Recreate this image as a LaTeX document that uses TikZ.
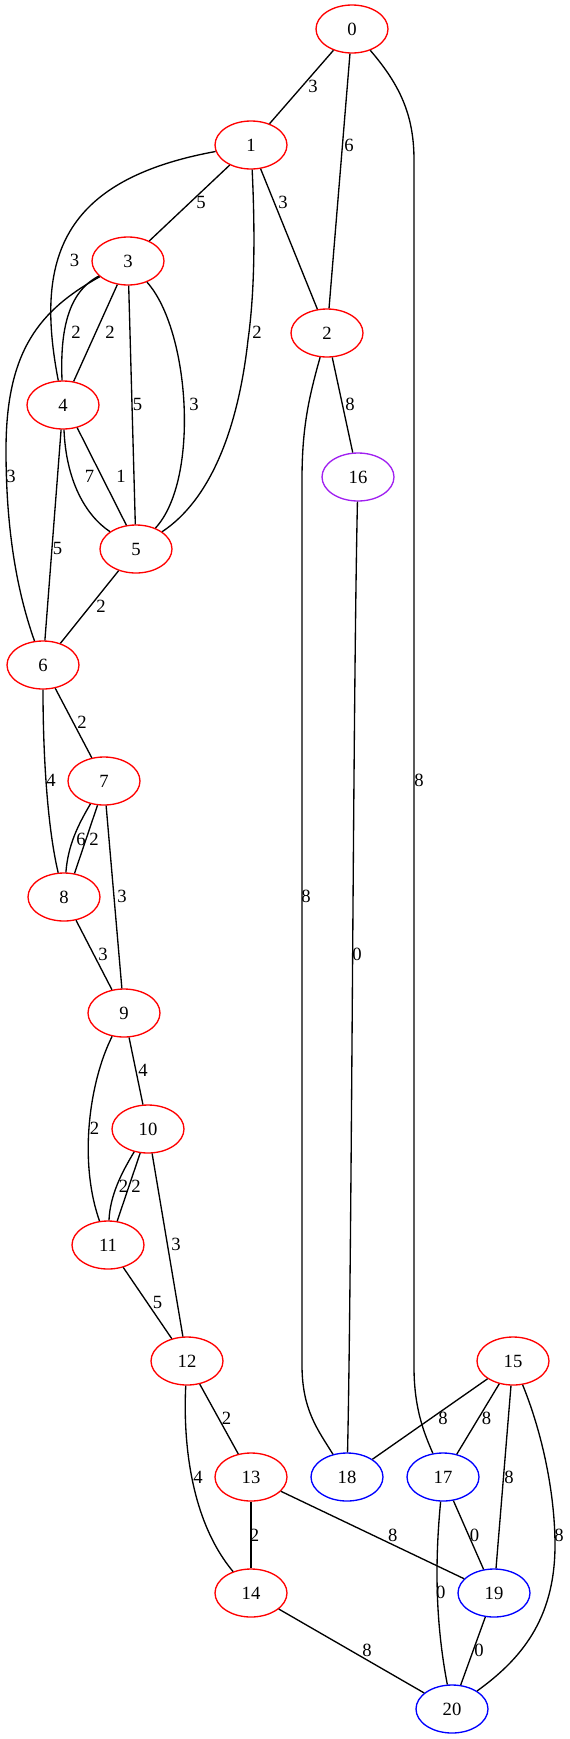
\documentclass[tikz,border=0pt]{standalone}
\usepackage{fontspec}
\setmainfont{Liberation Serif}
\usetikzlibrary{shapes.geometric}
\definecolor{gvpurple}{HTML}{A020F0}

\begin{document}
\begin{tikzpicture}[x=0.75pt, y=-0.75pt, line width=1pt,
  vtx/.style={draw, ellipse, minimum width=54pt, minimum height=36pt, inner sep=0pt, font=\fontsize{14}{16}\selectfont},
  redv/.style={vtx, draw=red},
  bluev/.style={vtx, draw=blue},
  purplev/.style={vtx, draw=gvpurple},
  wt/.style={inner sep=0pt, font=\fontsize{14}{16}\selectfont}]

\useasboundingbox (0,0) rectangle (570,1739);

% Top part
\node (n0) at (352,29) [redv] {0};
\node (n1) at (251,145) [redv] {1};
\node (n3) at (128,261) [redv] {3};
\node (n2) at (327,333) [redv] {2};
\node (n4) at (63,405) [redv] {4};
\node (n16) at (358,477) [purplev] {16};
\node (n5) at (136,549) [redv] {5};

% Left chain
\node (n6) at (43,665) [redv] {6};
\node (n7) at (104,781) [redv] {7};
\node (n8) at (64,897) [redv] {8};
\node (n9) at (124,1013) [redv] {9};
\node (n10) at (148,1129) [redv] {10};
\node (n11) at (108,1245) [redv] {11};
\node (n12) at (187,1361) [redv] {12};
\node (n15) at (513,1361) [redv] {15};

% Bottom part
\node (n13) at (251,1477) [redv] {13};
\node (n18) at (347,1477) [bluev] {18};
\node (n17) at (443,1477) [bluev] {17};
\node (n14) at (251,1593) [redv] {14};
\node (n19) at (494,1593) [bluev] {19};
\node (n20) at (452,1709) [bluev] {20};

% Edges
\draw (n0) -- (n1);
\draw (n0) -- (n2);
\draw (n0) .. controls (400,85) and (414,115) .. (414,160) -- (414,1367) .. controls (414,1410) and (425,1435) .. (n17);
\draw (n1) -- (n3);
\draw (n1) -- (n2);
\draw (n1) .. controls (60,180) and (35,260) .. (n4);
\draw (n1) .. controls (255,230) and (255,290) .. (248,340) .. controls (238,430) and (210,500) .. (n5);
\draw (n3) .. controls (68,292) and (60,330) .. (n4);
\draw (n3) -- (n4);
\draw (n3) -- (n5);
\draw (n3) .. controls (190,330) and (200,480) .. (n5);
\draw (n3) .. controls (40,310) and (6,350) .. (6,450) .. controls (6,540) and (20,600) .. (n6);
\draw (n4) .. controls (66,480) and (85,515) .. (n5);
\draw (n4.-58) -- (n5.112);
\draw (n4) -- (n6);
\draw (n5) -- (n6);
\draw (n2) -- (n16);
\draw (n2) .. controls (308,400) and (302,430) .. (302,480) -- (302,1365) .. controls (302,1410) and (318,1430) .. (n18);
\draw (n16) .. controls (353,700) and (352,1250) .. (n18);
\draw (n6) -- (n7);
\draw (n6) .. controls (43,760) and (48,830) .. (n8);
\draw (n7) .. controls (78,825) and (68,845) .. (n8);
\draw (n7.255) -- (n8.66);
\draw (n7) -- (n9);
\draw (n8) -- (n9);
\draw (n9) -- (n10);
\draw (n9) .. controls (90,1080) and (78,1160) .. (n11);
\draw (n10) .. controls (122,1172) and (110,1195) .. (n11);
\draw (n10.252) -- (n11.69);
\draw (n10) -- (n12);
\draw (n11) -- (n12);
\draw (n12) -- (n13);
\draw (n12) .. controls (183,1440) and (190,1520) .. (n14);
\draw (n13) -- (n14);
\draw (n13) -- (n19);
\draw (n14) -- (n20);
\draw (n15) -- (n18);
\draw (n15) -- (n17);
\draw (n15) -- (n19);
\draw (n15) .. controls (545,1440) and (555,1500) .. (555,1545) .. controls (555,1620) and (520,1660) .. (n20);
\draw (n17) -- (n19);
\draw (n17) .. controls (435,1560) and (435,1620) .. (n20);
\draw (n19) -- (n20);

% Weights
\node[wt] (w0-1) at (313,86) {3};
\node[wt] (w0-2) at (349,145) {6};
\node[wt] (w0-17) at (419,780) {8};
\node[wt] (w1-3) at (201,202) {5};
\node[wt] (w1-2) at (283,202) {3};
\node[wt] (w1-4) at (74.5,260) {3};
\node[wt] (w1-5) at (257,332) {2};
\node[wt] (w3-4a) at (76,332) {2};
\node[wt] (w3-4b) at (110,332) {2};
\node[wt] (w3-5a) at (137.5,404) {5};
\node[wt] (w3-5b) at (194,404) {3};
\node[wt] (w3-6) at (11,476.5) {3};
\node[wt] (w4-5a) at (89.5,476.5) {7};
\node[wt] (w4-5b) at (121,476.5) {1};
\node[wt] (w4-6) at (57.5,548) {5};
\node[wt] (w5-6) at (101,606) {2};
\node[wt] (w2-16) at (350,404) {8};
\node[wt] (w2-18) at (306,896) {8};
\node[wt] (w16-18) at (357,954) {0};
\node[wt] (w6-7) at (82,722) {2};
\node[wt] (w6-8) at (51,780) {4};
\node[wt] (w7-8a) at (81,839) {6};
\node[wt] (w7-8b) at (94,839) {2};
\node[wt] (w7-9) at (122,896) {3};
\node[wt] (w8-9) at (103,954) {3};
\node[wt] (w9-10) at (143,1070) {4};
\node[wt] (w9-11) at (94.5,1128) {2};
\node[wt] (w10-11a) at (123.6,1186) {2};
\node[wt] (w10-11b) at (136,1186) {2};
\node[wt] (w10-12) at (176,1244) {3};
\node[wt] (w11-12) at (157.5,1302) {5};
\node[wt] (w12-13) at (226.5,1418) {2};
\node[wt] (w12-14) at (198,1477) {4};
\node[wt] (w13-14) at (254.5,1535) {2};
\node[wt] (w13-19) at (392.7,1535) {8};
\node[wt] (w14-20) at (367,1650) {8};
\node[wt] (w15-18) at (443,1418) {8};
\node[wt] (w15-17) at (486.5,1418) {8};
\node[wt] (w15-19) at (509,1477) {8};
\node[wt] (w15-20) at (559,1535) {8};
\node[wt] (w17-19) at (474.5,1535) {0};
\node[wt] (w17-20) at (440.7,1592) {0};
\node[wt] (w19-20) at (479,1650) {0};

\end{tikzpicture}
\end{document}
